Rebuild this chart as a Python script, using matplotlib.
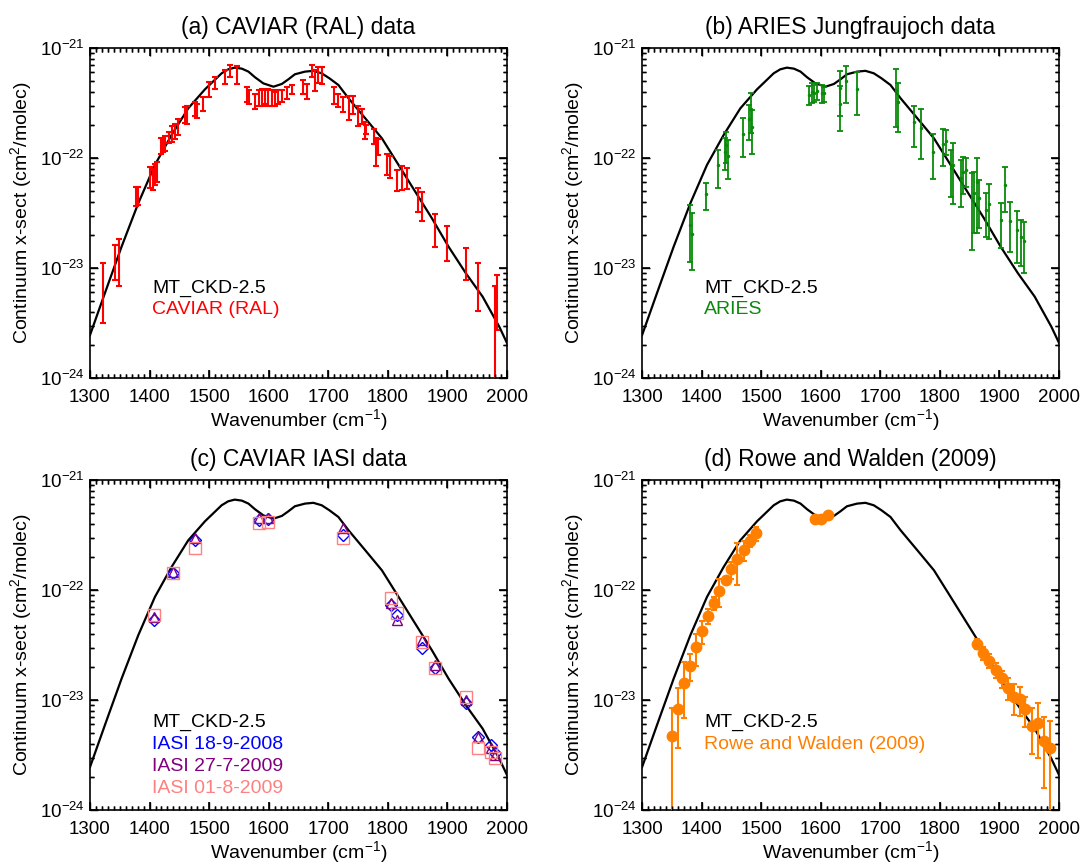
import numpy as np
import matplotlib
matplotlib.use("Agg")
import matplotlib.pyplot as plt
from matplotlib.ticker import MultipleLocator, FixedLocator
from matplotlib.collections import LineCollection

plt.rcParams['font.family'] = ['Liberation Sans', 'DejaVu Sans']
plt.rcParams['mathtext.fontset'] = 'custom'
plt.rcParams['mathtext.rm'] = 'Liberation Sans'
plt.rcParams['mathtext.default'] = 'regular'
# IDL-style ticks: inward, on all four sides
plt.rcParams.update({
    'xtick.direction': 'in', 'ytick.direction': 'in',
    'xtick.top': True, 'ytick.right': True,
    'xtick.major.size': 5.8, 'xtick.major.width': 1.2,
    'xtick.minor.size': 2.9, 'xtick.minor.width': 1.0,
    'ytick.major.size': 5.8, 'ytick.major.width': 1.2,
    'ytick.minor.size': 2.9, 'ytick.minor.width': 1.0,
    'xtick.labelsize': 13.5, 'ytick.labelsize': 13.5,
    'xtick.major.pad': 8, 'ytick.major.pad': 4,
    'axes.linewidth': 1.2,
})

# values in units of 1e-22 cm^2/molec
UNIT = 1e-22

# MT_CKD-2.5 continuum (same curve in every panel)
ckd_wn = [1300, 1325, 1353, 1381, 1409, 1437, 1465, 1493, 1521, 1532, 1543, 1555,
          1566, 1577, 1591, 1608, 1622, 1633, 1644, 1661, 1675, 1689, 1702, 1717,
          1734, 1762, 1790, 1818, 1846, 1874, 1902, 1931, 1959, 1987, 2000]
ckd_val = [0.0245, 0.059, 0.156, 0.387, 0.865, 1.62, 2.83, 4.21, 5.89, 6.4, 6.63, 6.49,
           6.1, 5.42, 4.77, 4.45, 4.71, 5.19, 5.77, 6.1, 6.2, 5.89, 5.3, 4.61,
           3.49, 2.3, 1.51, 0.865, 0.494, 0.283, 0.156, 0.0895, 0.055, 0.0293, 0.0208]

# (a) CAVIAR (RAL) laboratory data, relative 1-sigma error
caviar_wn = [1322, 1342, 1348, 1378, 1381, 1401, 1405, 1409, 1412, 1419, 1422, 1426, 1432, 1437,
             1443, 1447, 1459, 1463, 1476, 1480, 1490, 1499, 1510, 1527, 1535, 1546, 1563, 1567,
             1577, 1583, 1588, 1594, 1599, 1605, 1611, 1616, 1622, 1630, 1639, 1658, 1664, 1672,
             1678, 1683, 1689, 1709, 1717, 1725, 1734, 1742, 1750, 1756, 1762, 1764, 1776, 1780,
             1784, 1798, 1804, 1815, 1823, 1832, 1851, 1857, 1879, 1899, 1931, 1952, 1980, 1983]
caviar_val = [0.071, 0.119, 0.126, 0.453, 0.458, 0.682, 0.658, 0.726, 0.767, 1.31, 1.31, 1.38, 1.54, 1.68,
              1.77, 1.93, 2.5, 2.5, 2.83, 2.72, 3.14, 4.23, 4.86, 5.5, 6.2, 5.78, 3.81, 3.64,
              3.31, 3.55, 3.61, 3.61, 3.61, 3.55, 3.49, 3.61, 3.67, 3.94, 4.23, 4.45, 4.08, 6.2,
              5.21, 5.78, 5.69, 3.74, 3.37, 3.09, 2.93, 3.09, 2.46, 2.42, 1.8, 1.83, 1.59, 1.18,
              1.27, 0.895, 0.849, 0.643, 0.678, 0.67, 0.43, 0.381, 0.233, 0.18, 0.114, 0.076, 0.03, 0.057]
caviar_rel = [0.55, 0.35, 0.45, 0.2, 0.18, 0.22, 0.22, 0.21, 0.21, 0.17, 0.14, 0.16, 0.12, 0.17,
              0.16, 0.17, 0.16, 0.19, 0.14, 0.15, 0.14, 0.16, 0.12, 0.14, 0.12, 0.19, 0.16, 0.15,
              0.16, 0.16, 0.17, 0.14, 0.17, 0.16, 0.14, 0.14, 0.12, 0.12, 0.09, 0.14, 0.16, 0.12,
              0.22, 0.16, 0.17, 0.17, 0.14, 0.16, 0.25, 0.19, 0.21, 0.16, 0.17, 0.09, 0.16, 0.28,
              0.17, 0.21, 0.22, 0.22, 0.25, 0.22, 0.25, 0.3, 0.33, 0.35, 0.32, 0.46, 1.3, 0.52]

# (b) ARIES Jungfraujoch data
aries_wn = [1381, 1384, 1408, 1427, 1440, 1441, 1444, 1469, 1479, 1483, 1485, 1580, 1585, 1589, 1594,
            1602, 1605, 1632, 1633, 1643, 1661, 1726, 1729, 1757, 1768, 1789, 1806, 1810, 1818, 1822,
            1835, 1839, 1844, 1854, 1858, 1863, 1866, 1878, 1883, 1902, 1909, 1917, 1929, 1936, 1941]
aries_val = [0.244, 0.205, 0.467, 0.857, 1.144, 1.32, 1.05, 1.67, 2.25, 2.78, 1.91, 3.75, 3.96, 3.93, 4.07,
             3.88, 3.86, 4.32, 3.12, 5.0, 4.28, 4.17, 3.26, 2.11, 1.87, 1.14, 1.33, 1.43, 0.81, 0.87,
             0.66, 0.75, 0.77, 0.436, 0.48, 0.61, 0.43, 0.336, 0.385, 0.272, 0.57, 0.27, 0.22, 0.19, 0.177]
aries_err = [0.13, 0.109, 0.13, 0.326, 0.366, 0.42, 0.41, 0.64, 0.79, 1.1, 0.82, 0.72, 0.82, 0.68, 0.7,
             0.74, 0.6, 1.9, 1.35, 1.86, 1.82, 2.24, 1.52, 0.86, 0.9, 0.5, 0.49, 0.37, 0.37, 0.49,
             0.3, 0.28, 0.22, 0.29, 0.27, 0.4, 0.2, 0.143, 0.2, 0.12, 0.25, 0.13, 0.11, 0.085, 0.087]

# (c) CAVIAR IASI data
iasi_wn = [1407, 1440, 1477, 1583, 1598, 1724, 1805, 1815, 1857, 1879, 1931, 1952, 1974, 1980]
iasi_2008 = [0.534, 1.42, 2.85, 4.33, 4.39, 3.16, 0.731, 0.593, 0.295, 0.194, 0.0933, 0.0464, 0.039, 0.0328]
iasi_2709 = [0.572, 1.47, 2.95, 4.48, 4.48, 3.64, 0.757, 0.534, 0.351, 0.208, 0.100, 0.0464, 0.0364, 0.0317]
iasi_0108 = [0.593, 1.42, 2.39, 4.04, 4.18, 2.95, 0.84, 0.614, 0.339, 0.194, 0.107, 0.0364, 0.0339, 0.0295]
iasi_labels = ['IASI 18-9-2008', 'IASI 27-7-2009', 'IASI 01-8-2009']

# (d) Rowe and Walden (2009)
rw_wn = [1350, 1360, 1370, 1380, 1390, 1400, 1410, 1420, 1430, 1441, 1450, 1460, 1471, 1481, 1491,
         1591, 1601, 1612,
         1863, 1873, 1883, 1894, 1904, 1914, 1924, 1934, 1943, 1954, 1964, 1974, 1984]
rw_val = [0.0474, 0.0823, 0.144, 0.204, 0.301, 0.424, 0.581, 0.757, 0.979, 1.233, 1.54, 1.90, 2.31, 2.81, 3.27,
          4.45, 4.45, 4.81,
          0.323, 0.267, 0.228, 0.187, 0.157, 0.129, 0.107, 0.102, 0.0823, 0.0585, 0.0614, 0.0427, 0.0364]
rw_err = [0.038, 0.046, 0.076, 0.056, 0.097, 0.1, 0.088, 0.1, 0.285, 0.07, 0.27, 0.79, 0.46, 0.33, 0.46,
          0, 0, 0,
          0.035, 0.037, 0.033, 0.029, 0.028, 0.028, 0.034, 0.03, 0.025, 0.026, 0.032, 0.027, 0.028]

titles = ['(a) CAVIAR (RAL) data', '(b) ARIES Jungfraujoch data',
          '(c) CAVIAR IASI data', '(d) Rowe and Walden (2009)']
xticks = [1300, 1400, 1500, 1600, 1700, 1800, 1900, 2000]
ydecades = [-24, -23, -22, -21]
ytick_labels = ['10$^{-24}$', '10$^{-23}$', '10$^{-22}$', '10$^{-21}$']

RED = '#FF0000'
GREEN = '#0A8A0A'
BLUE = '#0000FF'
PURPLE = '#800080'
PINK = '#FF8080'
ORANGE = '#FF8000'


# the y axis is drawn as log10 of the cross-section on a linear axis
def lg(vals):
    return np.log10(np.array(vals) * UNIT)


def lg_err(vals, errs):
    v = np.array(vals) * UNIT
    e = np.array(errs) * UNIT
    lo = v - e
    lo_log = np.where(lo > 0, np.log10(np.clip(lo, 1e-40, None)), -30.0)
    return [np.log10(v) - lo_log, np.log10(v + e) - np.log10(v)]


def draw_ticks(ax, xmaj, xmin, ymaj, ymin):
    # inward tick marks on all four sides (drawn as segments so they always show)
    bbox = ax.get_position()
    fw, fh = ax.figure.get_size_inches() * ax.figure.dpi
    px_w, px_h = bbox.width * fw, bbox.height * fh
    lx_maj, lx_min = 8.0 / px_h, 4.0 / px_h
    ly_maj, ly_min = 8.0 / px_w, 4.0 / px_w
    segs = []
    for x in xmaj:
        segs += [[(x, 0), (x, lx_maj)], [(x, 1), (x, 1 - lx_maj)]]
    for x in xmin:
        segs += [[(x, 0), (x, lx_min)], [(x, 1), (x, 1 - lx_min)]]
    ax.add_collection(LineCollection(segs, colors='black', linewidths=1.0,
                                     transform=ax.get_xaxis_transform(), clip_on=False, zorder=4))
    segs = []
    for y in ymaj:
        segs += [[(0, y), (ly_maj, y)], [(1, y), (1 - ly_maj, y)]]
    for y in ymin:
        segs += [[(0, y), (ly_min, y)], [(1, y), (1 - ly_min, y)]]
    ax.add_collection(LineCollection(segs, colors='black', linewidths=1.0,
                                     transform=ax.get_yaxis_transform(), clip_on=False, zorder=4))


def style_axes(ax, title):
    ax.set_xlim(1300, 2000)
    ax.set_ylim(-24, -21)
    ax.xaxis.set_major_locator(FixedLocator(xticks))
    ax.set_xticklabels([str(t) for t in xticks])
    xminor = [t for t in range(1310, 2000, 10) if t % 100 != 0]
    ax.xaxis.set_minor_locator(FixedLocator(xminor))
    ax.yaxis.set_major_locator(FixedLocator(ydecades))
    ax.set_yticklabels(ytick_labels)
    yminor = [d + np.log10(k) for d in ydecades[:-1] for k in range(2, 10)]
    ax.yaxis.set_minor_locator(FixedLocator(yminor))
    draw_ticks(ax, xticks, xminor, ydecades, yminor)
    ax.set_xlabel('Wavenumber (cm$^{-1}$)', fontsize=14, labelpad=1)
    ax.set_ylabel('Continuum x-sect (cm$^2$/molec)', fontsize=14, labelpad=4)
    ax.set_title(title, fontsize=16.5, pad=10)


def add_ckd(ax):
    ax.plot(ckd_wn, lg(ckd_val), color='black', lw=1.6, zorder=2)


def add_labels(ax, entries, y0):
    for i, (txt, col) in enumerate(entries):
        ax.text(0.149, y0 - i * 0.066, txt, color=col, fontsize=14,
                transform=ax.transAxes, ha='left', va='center')


fig = plt.figure(figsize=(10.84, 8.65), dpi=100)
w, h = 0.3847, 0.3815
ax_a = fig.add_axes([0.0830, 0.563, w, h])
ax_b = fig.add_axes([0.5923, 0.563, w, h])
ax_c = fig.add_axes([0.0830, 0.0636, w, h])
ax_d = fig.add_axes([0.5923, 0.0636, w, h])

# (a)
add_ckd(ax_a)
caviar_err = np.array(caviar_val) * np.array(caviar_rel)
ax_a.errorbar(caviar_wn, lg(caviar_val), yerr=lg_err(caviar_val, caviar_err), fmt='none',
              ecolor=RED, elinewidth=1.5, capsize=2.5, capthick=1.5, zorder=3)
style_axes(ax_a, titles[0])
add_labels(ax_a, [('MT_CKD-2.5', 'black'), ('CAVIAR (RAL)', RED)], 0.273)

# (b)
add_ckd(ax_b)
ax_b.errorbar(aries_wn, lg(aries_val), yerr=lg_err(aries_val, aries_err),
              fmt='.', color=GREEN, markersize=3, ecolor=GREEN, elinewidth=1.3,
              capsize=2.5, capthick=1.3, zorder=3)
style_axes(ax_b, titles[1])
add_labels(ax_b, [('MT_CKD-2.5', 'black'), ('ARIES', GREEN)], 0.273)

# (c)
add_ckd(ax_c)
ax_c.plot(iasi_wn, lg(iasi_2008), 'D', mfc='none', mec=BLUE, ms=6.5, mew=1.0, zorder=3)
ax_c.plot(iasi_wn, lg(iasi_2709), '^', mfc='none', mec=PURPLE, ms=7, mew=1.0, zorder=3)
ax_c.plot(iasi_wn, lg(iasi_0108), 's', mfc='none', mec=PINK, ms=8, mew=1.0, zorder=3)
style_axes(ax_c, titles[2])
add_labels(ax_c, [('MT_CKD-2.5', 'black'), (iasi_labels[0], BLUE),
                  (iasi_labels[1], PURPLE), (iasi_labels[2], PINK)], 0.264)

# (d)
add_ckd(ax_d)
ax_d.errorbar(rw_wn, lg(rw_val), yerr=lg_err(rw_val, rw_err),
              fmt='o', color=ORANGE, markersize=7.5, ecolor=ORANGE, elinewidth=1.5,
              capsize=2.5, capthick=1.5, zorder=3)
style_axes(ax_d, titles[3])
add_labels(ax_d, [('MT_CKD-2.5', 'black'), ('Rowe and Walden (2009)', ORANGE)], 0.264)

fig.savefig('out.png', dpi=100)
